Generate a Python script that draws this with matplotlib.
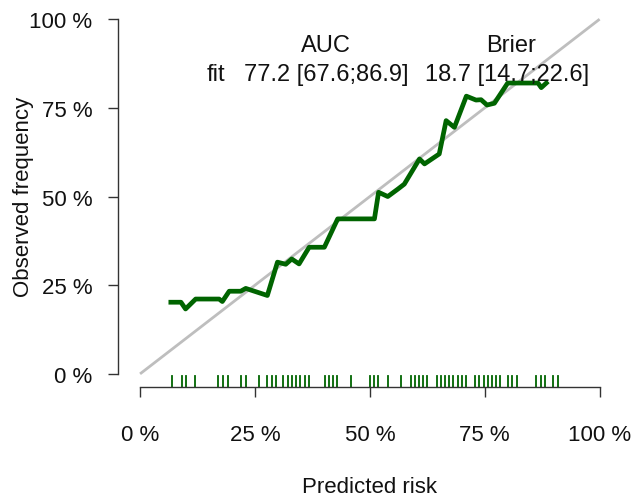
import matplotlib
matplotlib.use("Agg")
import matplotlib.pyplot as plt

plt.rcParams['font.family'] = ['Liberation Sans', 'DejaVu Sans']

# Calibration curve (predicted risk vs observed frequency, in %)
pred_risk = [6.7, 8.9, 9.9, 12.1, 17.2, 17.9, 19.4, 21.9, 23.0, 27.7, 29.9, 31.7,
             33.0, 34.6, 36.8, 40.1, 43.0, 51.0, 51.9, 53.9, 56.1, 57.5, 60.8, 61.9,
             65.1, 66.6, 68.4, 71.0, 73.1, 74.2, 75.5, 77.1, 80.0, 86.6, 87.3, 88.4]
obs_freq = [20.2, 20.2, 18.3, 21.1, 21.1, 20.4, 23.3, 23.3, 24.1, 22.1, 31.5, 30.9,
            32.4, 31.0, 35.7, 35.7, 43.7, 43.7, 51.2, 50.0, 52.1, 53.5, 60.6, 59.2,
            62.0, 71.4, 69.5, 78.3, 77.2, 77.3, 75.8, 76.3, 82.0, 82.0, 80.7, 82.0]

# Individual predicted risks shown as a rug (%)
rug_risk = [6.97, 9.04, 9.91, 11.87, 16.99, 18.08, 19.17, 21.90, 22.98, 25.93,
            27.67, 28.65, 29.63, 31.15, 32.14, 33.12, 33.99, 34.86, 35.84, 36.82,
            40.31, 41.18, 42.05, 42.92, 45.90, 50.00, 50.87, 51.81, 54.03, 56.86,
            58.93, 59.80, 60.68, 61.66, 62.53, 64.60, 65.51, 66.38, 67.32, 68.19,
            69.13, 70.09, 70.96, 72.98, 73.86, 74.79, 75.66, 76.62, 77.49, 78.43,
            80.02, 80.98, 81.98, 86.21, 87.15, 88.02, 89.83, 90.92]

ticks = [0, 25, 50, 75, 100]
tick_labels = ["0 %", "25 %", "50 %", "75 %", "100 %"]

header = ["AUC", "Brier"]
model_name = "fit"
auc_text = "77.2 [67.6;86.9]"
brier_text = "18.7 [14.7;22.6]"

fig = plt.figure(figsize=(6.34, 5.02), dpi=100)
ax = fig.add_axes([118 / 634, 114 / 502, 500 / 634, 382 / 502])
ax.set_xlim(-4.8, 104.0)
ax.set_ylim(-3.7, 104.0)

# Reference diagonal
ax.plot([0, 100], [0, 100], color="#bebebe", lw=2, solid_capstyle="butt", zorder=1)

# Calibration curve
ax.plot(pred_risk, obs_freq, color="#006400", lw=3.4, solid_joinstyle="round", zorder=3)

# Rug along the bottom
for r in rug_risk:
    ax.plot([r, r], [0.0, 0.03], color="#006400", lw=1.3,
            transform=ax.get_xaxis_transform(), clip_on=False, zorder=2)

for side in ("top", "right"):
    ax.spines[side].set_visible(False)
for side in ("left", "bottom"):
    ax.spines[side].set_bounds(0, 100)
    ax.spines[side].set_color("#333333")
    ax.spines[side].set_linewidth(1.0)

ax.set_xticks(ticks)
ax.set_xticklabels(tick_labels)
ax.set_yticks(ticks)
ax.set_yticklabels(tick_labels)
ax.tick_params(axis="both", direction="out", length=7.5, width=1.0, color="#333333",
               labelsize=16, labelcolor="#111111")
ax.tick_params(axis="x", pad=19)
ax.tick_params(axis="y", pad=11)

ax.set_xlabel("Predicted risk", fontsize=16, color="#111111")
ax.set_ylabel("Observed frequency", fontsize=16, color="#111111")
ax.xaxis.set_label_coords(0.5 + (370 - 368) / 500, (388 - 488) / 382)
ax.yaxis.set_label_coords((24 - 118) / 500, (388 - 197) / 382)
ax.xaxis.label.set_va("center")
ax.yaxis.label.set_va("center")

# Performance summary table
ax.text(40.4, 92.8, header[0], ha="center", va="center", fontsize=17, color="#111111")
ax.text(80.8, 92.8, header[1], ha="center", va="center", fontsize=17, color="#111111")
ax.text(16.5, 84.6, model_name, ha="center", va="center", fontsize=17, color="#111111")
ax.text(40.5, 84.6, auc_text, ha="center", va="center", fontsize=17, color="#111111")
ax.text(79.8, 84.6, brier_text, ha="center", va="center", fontsize=17, color="#111111")

fig.savefig("out.png", dpi=100)
